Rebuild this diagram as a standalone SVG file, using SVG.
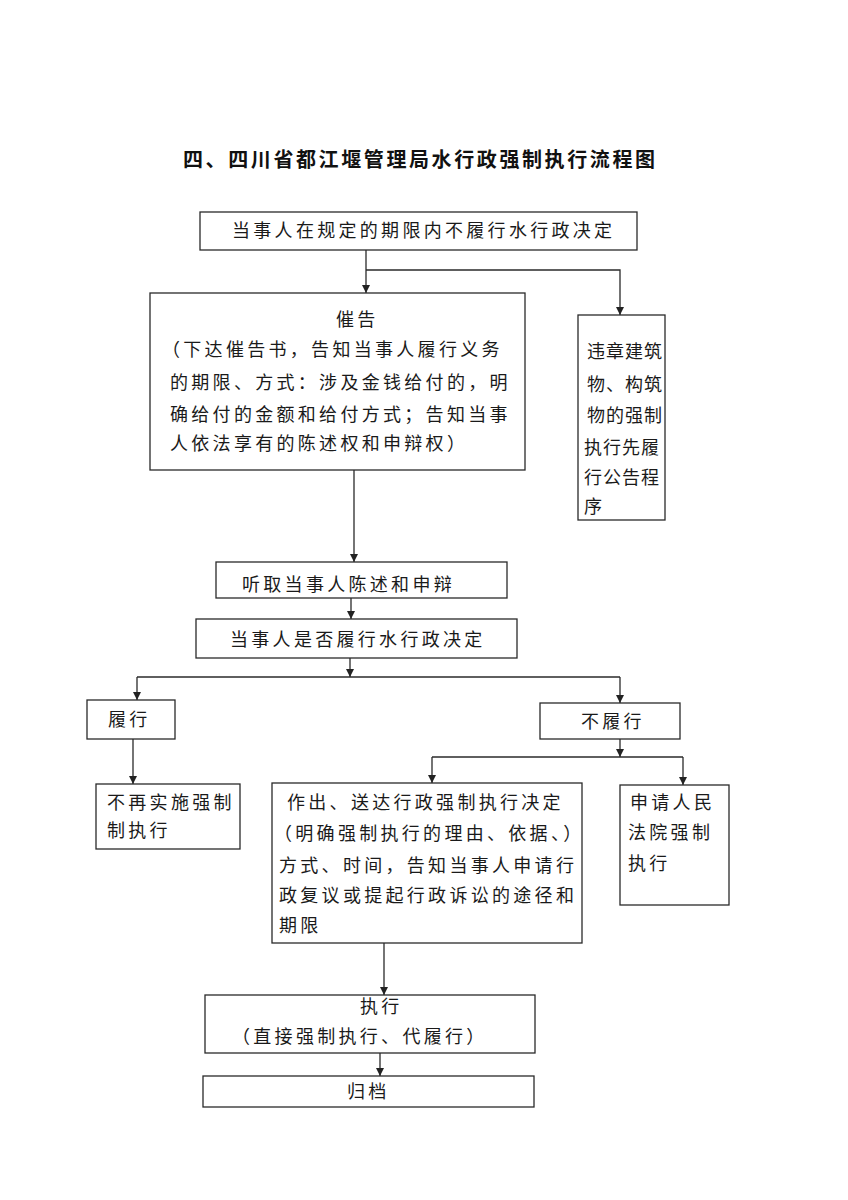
<svg xmlns="http://www.w3.org/2000/svg" width="848" height="1200" viewBox="0 0 848 1200">
<style>
.box{fill:#fff;stroke:#2a2a2a;stroke-width:1.3}
.t{font-family:"Liberation Serif","Noto Sans CJK SC",serif;font-size:18px;fill:#1a1a1a;letter-spacing:3.3px}
.n{letter-spacing:1px}
.title{font-family:"Liberation Serif","Noto Sans CJK SC",serif;font-size:20px;font-weight:bold;fill:#111;letter-spacing:2.6px}
.c{fill:none;stroke:#2a2a2a;stroke-width:1.3}
</style>
<defs>
<marker id="ah" viewBox="0 0 10 10" refX="10" refY="5" markerWidth="9" markerHeight="8" orient="auto" markerUnits="userSpaceOnUse"><path d="M0,0 L10,5 L0,10 z" fill="#222"/></marker>
</defs>
<rect width="848" height="1200" fill="#fff"/>
<text class="title" x="183" y="167">四、四川省都江堰管理局水行政强制执行流程图</text>

<g id="connectors">
<path class="c" d="M366,250 V293" marker-end="url(#ah)"/>
<path class="c" d="M366,270 H620 V315" marker-end="url(#ah)"/>
<path class="c" d="M354,470 V562" marker-end="url(#ah)"/>
<path class="c" d="M351,598 V619" marker-end="url(#ah)"/>
<path class="c" d="M350,658 V677" marker-end="url(#ah)"/>
<path class="c" d="M137,677 H620"/>
<path class="c" d="M137,677 V700" marker-end="url(#ah)"/>
<path class="c" d="M620,677 V703" marker-end="url(#ah)"/>
<path class="c" d="M133,739 V784" marker-end="url(#ah)"/>
<path class="c" d="M620,739 V757" marker-end="url(#ah)"/>
<path class="c" d="M432,757 H683"/>
<path class="c" d="M432,757 V783" marker-end="url(#ah)"/>
<path class="c" d="M683,757 V785" marker-end="url(#ah)"/>
<path class="c" d="M384,943 V995" marker-end="url(#ah)"/>
<path class="c" d="M380,1053 V1076" marker-end="url(#ah)"/>
</g>

<g id="n1">
<rect class="box" x="200" y="212" width="437" height="38"/>
<text class="t" x="232" y="237">当事人在规定的期限内不履行水行政决定</text>
</g>

<g id="n2">
<rect class="box" x="150" y="293" width="375" height="177"/>
<text class="t" x="336" y="326">催告</text>
<text class="t" x="162" y="356">（下达催告书，告知当事人履行义务</text>
<text class="t" x="170" y="389">的期限、方式：涉及金钱给付的，明</text>
<text class="t" x="170" y="421">确给付的金额和给付方式；告知当事</text>
<text class="t" x="170" y="450">人依法享有的陈述权和申辩权）</text>
</g>

<g id="n3">
<rect class="box" x="578" y="315" width="87" height="205"/>
<text class="t n" x="587" y="358">违章建筑</text>
<text class="t n" x="587" y="391">物、构筑</text>
<text class="t n" x="587" y="422">物的强制</text>
<text class="t n" x="584" y="454">执行先履</text>
<text class="t n" x="584" y="484">行公告程</text>
<text class="t n" x="584" y="513">序</text>
</g>

<g id="n4">
<rect class="box" x="216" y="562" width="291" height="36"/>
<text class="t" x="242" y="591">听取当事人陈述和申辩</text>
</g>

<g id="n5">
<rect class="box" x="196" y="619" width="321" height="39"/>
<text class="t" x="230" y="646">当事人是否履行水行政决定</text>
</g>

<g id="n6">
<rect class="box" x="87" y="700" width="88" height="39"/>
<text class="t" x="108" y="726">履行</text>
</g>

<g id="n7">
<rect class="box" x="540" y="703" width="140" height="36"/>
<text class="t" x="581" y="728">不履行</text>
</g>

<g id="n8">
<rect class="box" x="96" y="784" width="144" height="65"/>
<text class="t" x="107" y="809">不再实施强制</text>
<text class="t" x="107" y="837">制执行</text>
</g>

<g id="n9">
<rect class="box" x="272" y="783" width="310" height="160"/>
<text class="t" x="287" y="809">作出、送达行政强制执行决定</text>
<text class="t" x="274" y="840">（明确强制执行的理由、依据、）</text>
<text class="t" x="279" y="872">方式、时间，告知当事人申请行</text>
<text class="t" x="279" y="902">政复议或提起行政诉讼的途径和</text>
<text class="t" x="279" y="932">期限</text>
</g>

<g id="n10">
<rect class="box" x="620" y="785" width="109" height="120"/>
<text class="t" x="630" y="809">申请人民</text>
<text class="t" x="628" y="839">法院强制</text>
<text class="t" x="628" y="870">执行</text>
</g>

<g id="n11">
<rect class="box" x="205" y="995" width="330" height="58"/>
<text class="t" x="360" y="1013">执行</text>
<text class="t" x="232" y="1043">（直接强制执行、代履行）</text>
</g>

<g id="n12">
<rect class="box" x="203" y="1076" width="331" height="31"/>
<text class="t" x="347" y="1098">归档</text>
</g>
</svg>
